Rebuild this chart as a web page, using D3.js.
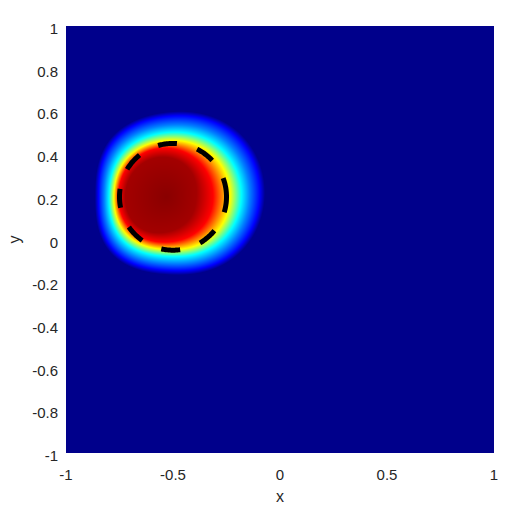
<!DOCTYPE html>
<html>
<head>
<meta charset="utf-8">
<script src="https://cdn.jsdelivr.net/npm/d3@7"></script>
<style>
  html, body { margin: 0; padding: 0; background: #fff; }
  svg { display: block; }
  text { font-family: "Liberation Sans", Arial, Helvetica, sans-serif; fill: #262626; }
</style>
</head>
<body>
<svg id="chart" width="506" height="507"></svg>
<script>
// ---- data ----
const xTicks = [-1, -0.5, 0, 0.5, 1];
const xTickLabels = ["-1", "-0.5", "0", "0.5", "1"];
const yTicks = [-1, -0.8, -0.6, -0.4, -0.2, 0, 0.2, 0.4, 0.6, 0.8, 1];
const yTickLabels = ["-1", "-0.8", "-0.6", "-0.4", "-0.2", "0", "0.2", "0.4", "0.6", "0.8", "1"];

// dashed reference circle
const circleCenter = [-0.5, 0.2];
const circleRadius = 0.25;

// heat blob: centre and contour radii (data units) at each angle (deg, CCW from +x)
const blobCenter = [-0.53, 0.2];
const blobAngles = [0, 45, 90, 135, 180, 225, 270, 315];
const levelValues = [0.965, 0.875, 0.625, 0.375, 0.25, 0.125, 0.0];
const rDarkRed   = [0.130, 0.165, 0.187, 0.195, 0.190, 0.200, 0.160, 0.150];
const rRed       = [0.215, 0.222, 0.228, 0.234, 0.220, 0.232, 0.205, 0.220];
const rYellow    = [0.300, 0.295, 0.255, 0.265, 0.236, 0.268, 0.232, 0.285];
const rCyan      = [0.355, 0.345, 0.290, 0.300, 0.252, 0.305, 0.260, 0.330];
const rLightBlue = [0.392, 0.390, 0.320, 0.336, 0.268, 0.340, 0.290, 0.370];
const rBlue      = [0.440, 0.440, 0.360, 0.374, 0.290, 0.375, 0.320, 0.410];
const rZero      = [0.465, 0.465, 0.380, 0.395, 0.305, 0.395, 0.340, 0.432];

// ---- layout ----
const margin = { left: 66, top: 26, right: 494, bottom: 453 };
const svg = d3.select("#chart");
const x = d3.scaleLinear().domain([-1, 1]).range([margin.left, margin.right]);
const y = d3.scaleLinear().domain([-1, 1]).range([margin.bottom, margin.top]);

// jet colormap (MATLAB style)
function jet(v) {
  v = Math.max(0, Math.min(1, v));
  const c = t => Math.max(0, Math.min(1, t));
  const r = c(1.5 - Math.abs(4 * v - 3));
  const g = c(1.5 - Math.abs(4 * v - 2));
  const b = v < 0.125 ? 0.545 + (v / 0.125) * (1 - 0.545) : c(1.5 - Math.abs(4 * v - 1));
  return [Math.round(r * 255), Math.round(g * 255), Math.round(b * 255)];
}

// closed smooth interpolators of contour radii over angle
const levels = [rDarkRed, rRed, rYellow, rCyan, rLightBlue, rBlue, rZero];
const levelInterp = levels.map(arr => d3.interpolateBasisClosed(arr));

function fieldValue(px, py) {
  const dx = px - blobCenter[0], dy = py - blobCenter[1];
  const d = Math.hypot(dx, dy);
  let ang = Math.atan2(dy, dx);
  if (ang < 0) ang += 2 * Math.PI;
  const t = ang / (2 * Math.PI);
  const radii = levelInterp.map(f => f(t));
  if (d <= radii[0]) return 0.99 - (0.99 - levelValues[0]) * (d / radii[0]);
  for (let i = 1; i < radii.length; i++) {
    if (d <= radii[i]) {
      const f = (d - radii[i - 1]) / (radii[i] - radii[i - 1]);
      return levelValues[i - 1] + (levelValues[i] - levelValues[i - 1]) * f;
    }
  }
  return 0;
}

// ---- raster heat map ----
const W = Math.round(margin.right - margin.left);
const H = Math.round(margin.bottom - margin.top);
const canvas = document.createElement("canvas");
canvas.width = W; canvas.height = H;
const ctx = canvas.getContext("2d");
const img = ctx.createImageData(W, H);
for (let j = 0; j < H; j++) {
  const yv = y.invert(margin.top + j + 0.5);
  for (let i = 0; i < W; i++) {
    const xv = x.invert(margin.left + i + 0.5);
    const col = jet(fieldValue(xv, yv));
    const k = (j * W + i) * 4;
    img.data[k] = col[0]; img.data[k + 1] = col[1]; img.data[k + 2] = col[2]; img.data[k + 3] = 255;
  }
}
ctx.putImageData(img, 0, 0);

svg.append("image")
  .attr("x", margin.left).attr("y", margin.top)
  .attr("width", W).attr("height", H)
  .attr("preserveAspectRatio", "none")
  .attr("href", canvas.toDataURL());

// ---- dashed circle ----
const angles = d3.range(0, 2 * Math.PI + 1e-9, Math.PI / 180);
const circLine = d3.line()
  .x(a => x(circleCenter[0] + circleRadius * Math.cos(a)))
  .y(a => y(circleCenter[1] + circleRadius * Math.sin(a)));
svg.append("path")
  .attr("d", circLine(angles))
  .attr("fill", "none")
  .attr("stroke", "#000")
  .attr("stroke-width", 5)
  .attr("stroke-dasharray", "19,21");

// ---- tick labels ----
svg.append("g").selectAll("text")
  .data(xTicks)
  .join("text")
  .attr("x", d => x(d))
  .attr("y", 480)
  .attr("text-anchor", "middle")
  .attr("font-size", 15)
  .text((d, i) => xTickLabels[i]);

svg.append("g").selectAll("text")
  .data(yTicks)
  .join("text")
  .attr("x", 58)
  .attr("y", d => y(d) + 8)
  .attr("text-anchor", "end")
  .attr("font-size", 15)
  .text((d, i) => yTickLabels[i]);

// ---- axis labels ----
svg.append("text")
  .attr("x", x(0)).attr("y", 502)
  .attr("text-anchor", "middle")
  .attr("font-size", 16)
  .text("x");

svg.append("text")
  .attr("transform", `translate(20,${y(0)}) rotate(-90)`)
  .attr("text-anchor", "middle")
  .attr("font-size", 16)
  .text("y");
</script>
</body>
</html>
